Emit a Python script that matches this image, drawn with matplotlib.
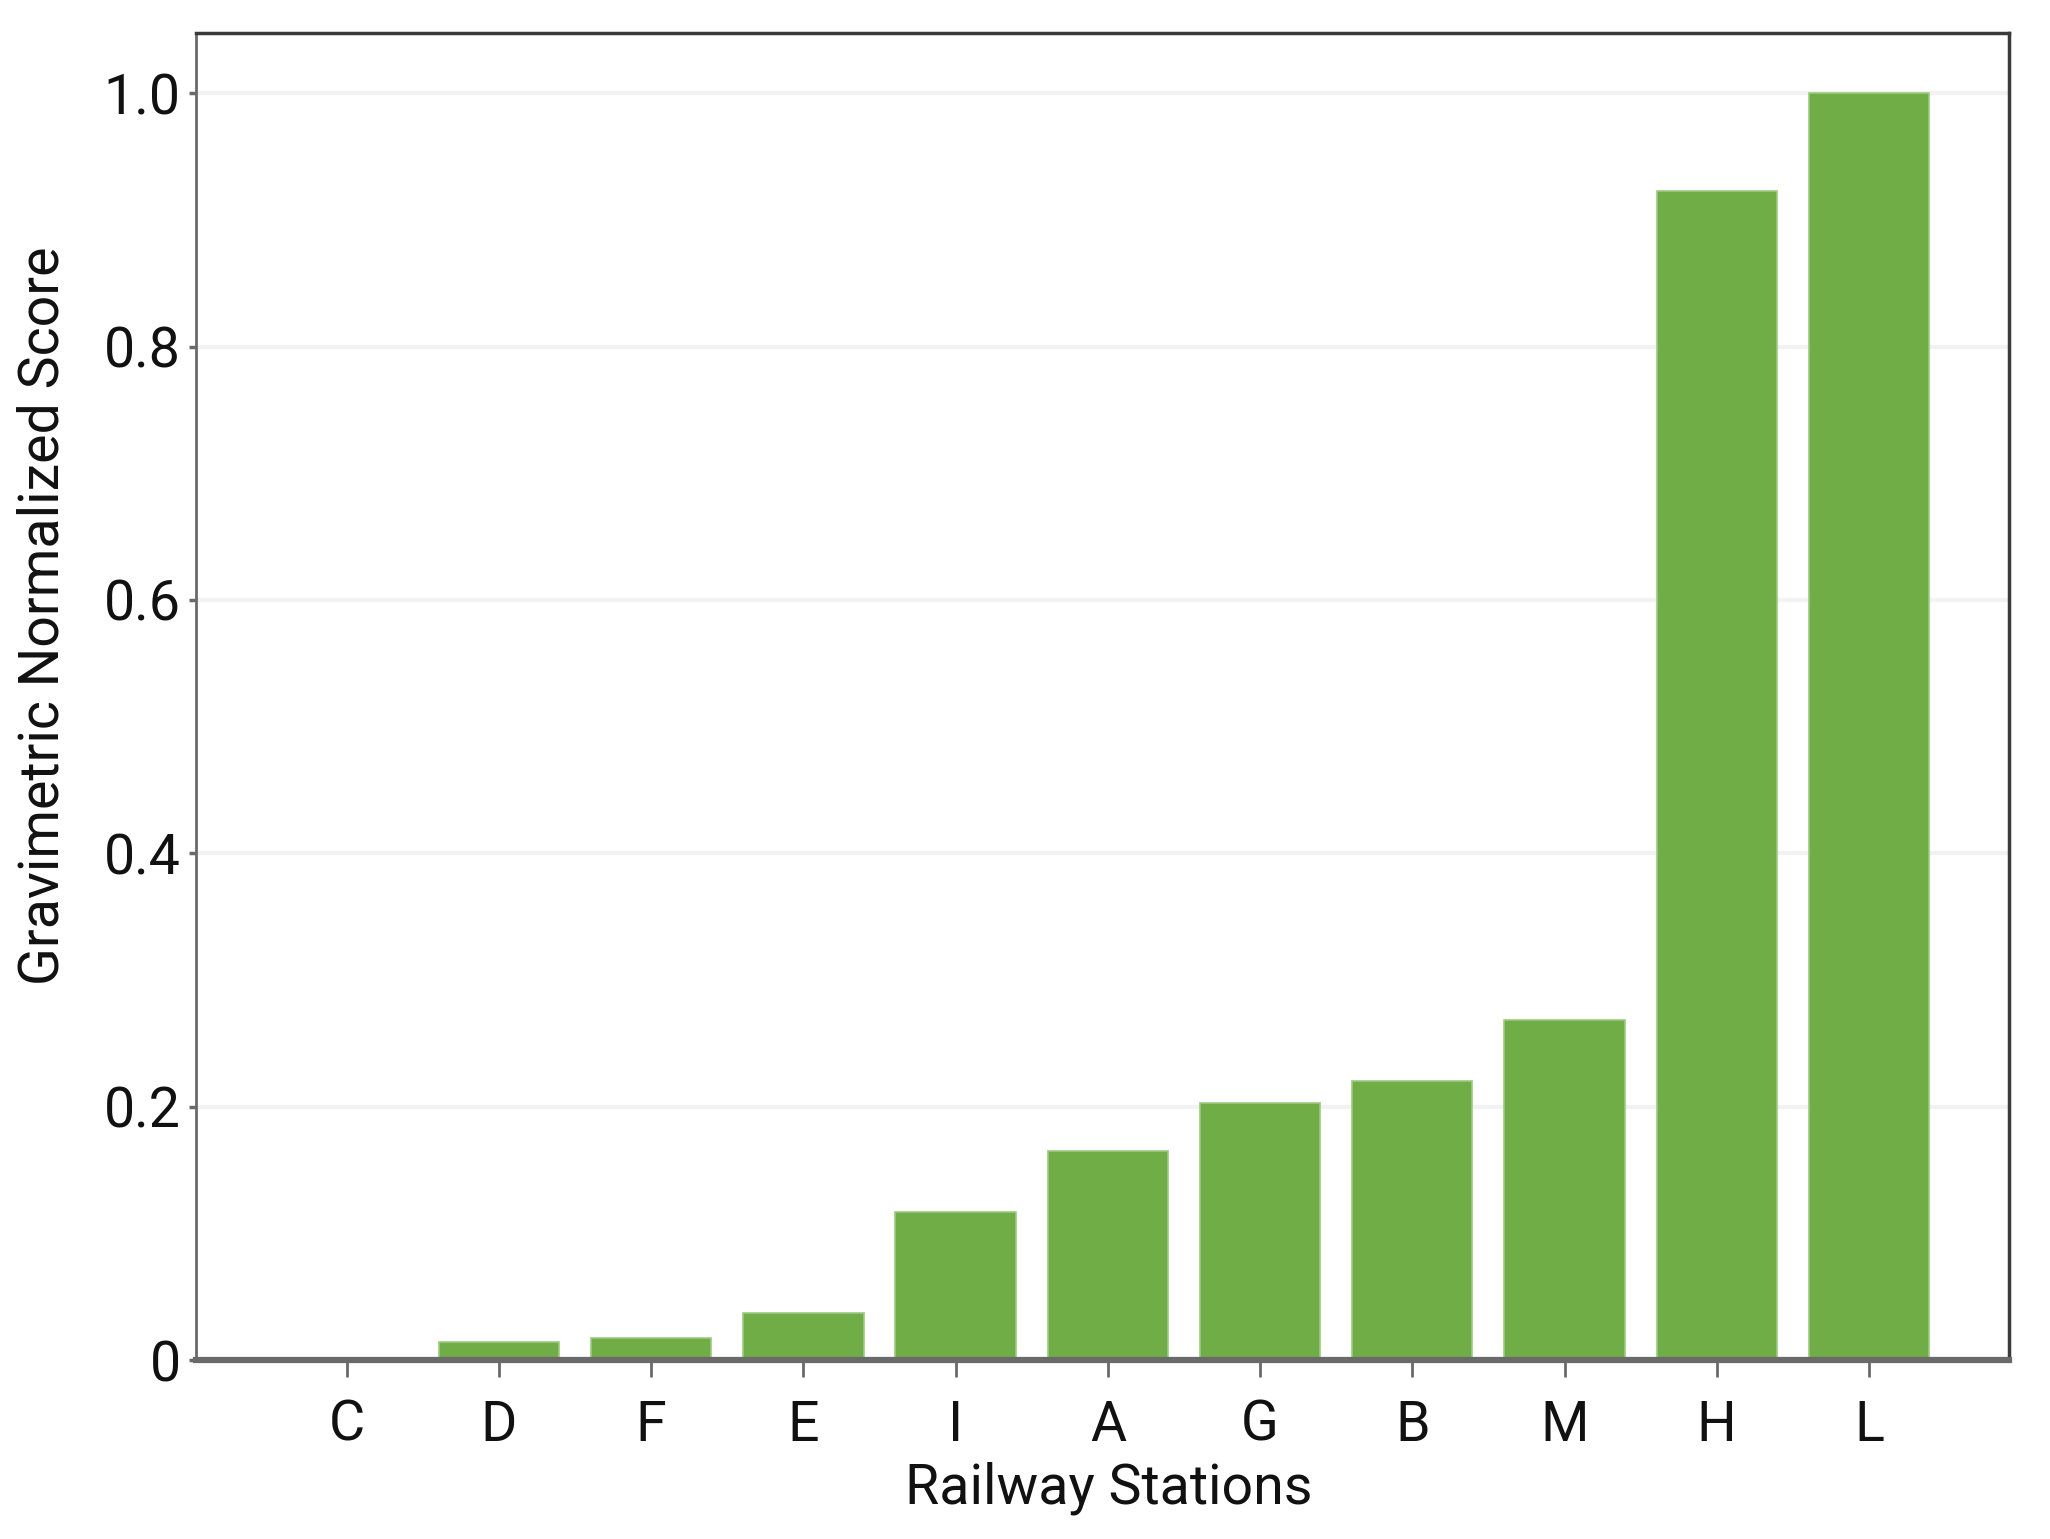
import matplotlib
matplotlib.use("Agg")
import matplotlib.pyplot as plt

stations = ["C", "D", "F", "E", "I", "A", "G", "B", "M", "H", "L"]
scores = [0.0, 0.0145, 0.0175, 0.037, 0.117, 0.165, 0.203, 0.220, 0.268, 0.923, 1.0]
yticks = [0, 0.2, 0.4, 0.6, 0.8, 1.0]
ytick_labels = ["0", "0.2", "0.4", "0.6", "0.8", "1.0"]

plt.rcParams["font.family"] = ["Roboto", "DejaVu Sans"]

W, H = 2050, 1539
fig = plt.figure(figsize=(W / 100, H / 100), dpi=100)
L, R, T, B = 196, 2009, 33, 1360
ax = fig.add_axes([L / W, 1 - B / H, (R - L) / W, (B - T) / H])

x = list(range(len(stations)))
ax.bar(x, scores, width=0.79, color="#70AD47", edgecolor="#9CC97F", linewidth=1.2, zorder=3)

ax.set_xlim(-0.99, 10.92)
ax.set_ylim(0, 1.0475)
ax.set_yticks(yticks)
ax.set_yticklabels(ytick_labels)
ax.set_xticks(x)
ax.set_xticklabels(stations)

ax.yaxis.grid(True, color="#f2f2f2", linewidth=3, zorder=0)
ax.set_axisbelow(True)

for s in ["top", "right"]:
    ax.spines[s].set_color("#3a3a3a")
    ax.spines[s].set_linewidth(2.5)
ax.spines["left"].set_color("#6a6a6a")
ax.spines["left"].set_linewidth(2.0)
ax.spines["bottom"].set_color("#6a6a6a")
ax.spines["bottom"].set_linewidth(4.5)
ax.spines["bottom"].set_zorder(4)

fs = 40
ax.tick_params(axis="x", length=12, width=2, color="#6a6a6a", labelsize=fs, pad=16, labelcolor="#111111")
ax.tick_params(axis="y", length=5, width=2.5, color="#6a6a6a", labelsize=fs, pad=6, labelcolor="#111111")

fig.text(43 / W, 1 - 616 / H, "Gravimetric Normalized Score", rotation=90,
         ha="center", va="center", fontsize=fs, color="#111111")
fig.text(1109 / W, 1 - 1488 / H, "Railway Stations", ha="center", va="center",
         fontsize=fs, color="#111111")

fig.savefig("out.png", dpi=100, facecolor="white")
